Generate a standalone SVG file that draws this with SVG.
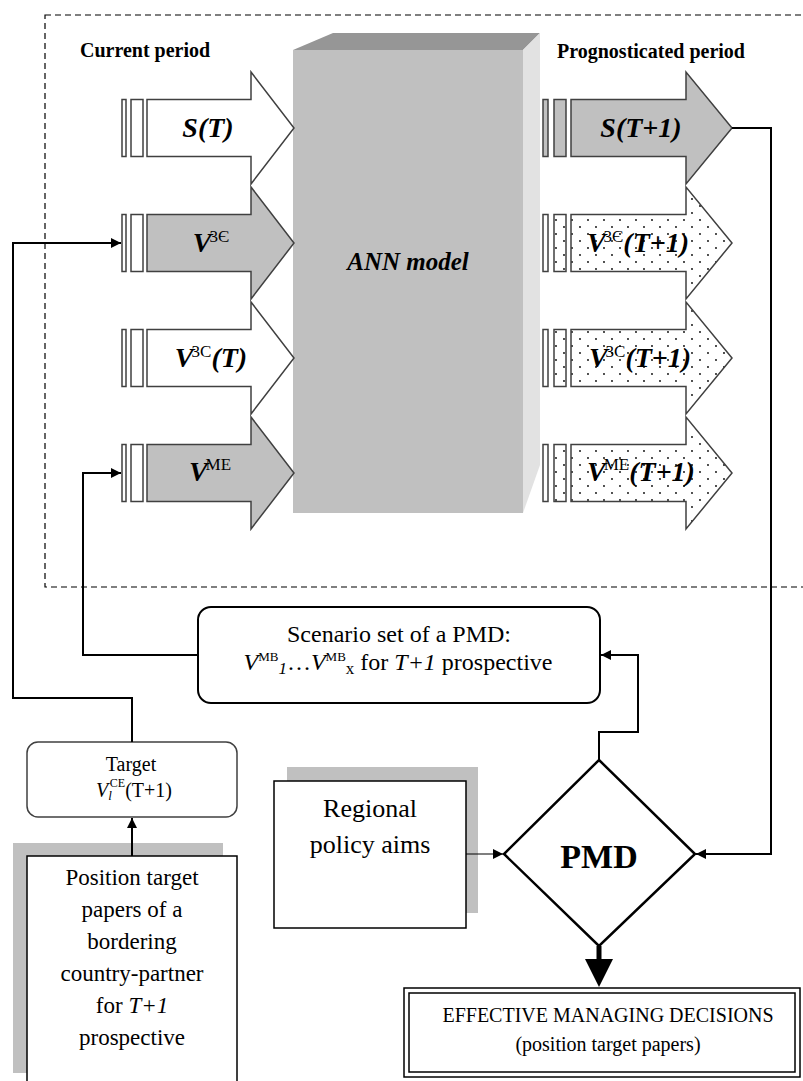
<svg xmlns="http://www.w3.org/2000/svg" width="803" height="1081" viewBox="0 0 803 1081">
<style>
.hdr{font-size:20px;font-weight:bold}
.lbl{font-size:28px;font-weight:bold;font-style:italic}
.sup{font-size:17px;font-weight:normal;font-style:normal}
.arr{stroke:#404040;stroke-width:1.5}
.wh{fill:#fff}
.gr{fill:#c0c0c0}
.dot{fill:url(#dots)}
.con{fill:none;stroke:#000;stroke-width:2}
.shadow{fill:#c0c0c0}
</style>
<defs>
<pattern id="dots" width="16" height="14" patternUnits="userSpaceOnUse">
<rect width="16" height="14" fill="#fff"/>
<circle cx="4" cy="3" r="0.9" fill="#000"/>
<circle cx="12" cy="10" r="0.9" fill="#000"/>
</pattern>
<marker id="ah" viewBox="0 0 10 10" refX="10" refY="5" markerWidth="10" markerHeight="10" markerUnits="userSpaceOnUse" orient="auto">
<path d="M0,0 L10,5 L0,10 Z" fill="#000"/>
</marker>
</defs>
<rect width="803" height="1081" fill="#fff"/>
<g font-family="Liberation Serif">

<rect x="45" y="15" width="780" height="572" fill="none" stroke="#000" stroke-width="1.2" stroke-dasharray="6,4"/>

<text class="hdr" x="80" y="57">Current period</text>
<text class="hdr" x="557" y="58">Prognosticated period</text>

<g id="ann-model">
<polygon points="293,50 333,33 540,33 523,50" fill="#969696"/>
<polygon points="523,50 540,33 540,465 523,513" fill="#e2e2e2"/>
<rect x="293" y="50" width="230" height="463" fill="#c0c0c0"/>
<text x="408" y="270" text-anchor="middle" font-size="25" font-weight="bold" font-style="italic">ANN model</text>
</g>

<g id="in-S">
<rect class="arr wh" x="122" y="99.5" width="4" height="57"/>
<rect class="arr wh" x="131" y="99.5" width="12" height="57"/>
<path class="arr wh" d="M147,99.5 H251 V72 L294,128 L251,184 V156.5 H147 Z"/>
<text class="lbl" x="208" y="137" text-anchor="middle">S(T)</text>
</g>
<g id="in-V3E">
<rect class="arr wh" x="122" y="214.5" width="4" height="57"/>
<rect class="arr wh" x="131" y="214.5" width="12" height="57"/>
<path class="arr gr" d="M147,214.5 H251 V187 L294,243 L251,299 V271.5 H147 Z"/>
<text class="lbl" x="211" y="252" text-anchor="middle">V<tspan class="sup" dx="-2" dy="-10">3Є</tspan></text>
</g>
<g id="in-V3C">
<rect class="arr wh" x="122" y="329.5" width="4" height="57"/>
<rect class="arr wh" x="131" y="329.5" width="12" height="57"/>
<path class="arr wh" d="M147,329.5 H251 V302 L294,358 L251,414 V386.5 H147 Z"/>
<text class="lbl" x="211" y="367" text-anchor="middle">V<tspan class="sup" dx="-2" dy="-10">3C</tspan><tspan dy="10">(T)</tspan></text>
</g>
<g id="in-VME">
<rect class="arr wh" x="122" y="444.5" width="4" height="57"/>
<rect class="arr wh" x="131" y="444.5" width="12" height="57"/>
<path class="arr gr" d="M147,444.5 H251 V417 L294,473 L251,529 V501.5 H147 Z"/>
<text class="lbl" x="210" y="481" text-anchor="middle">V<tspan class="sup" font-size="13" dx="-2" dy="-11">ME</tspan></text>
</g>

<g id="out-S">
<rect class="arr gr" x="543" y="99.5" width="5" height="57"/>
<rect class="arr gr" x="554" y="99.5" width="12" height="57"/>
<path class="arr gr" d="M571,99.5 H686 V72 L732,128 L686,184 V156.5 H571 Z"/>
<text class="lbl" x="641" y="137" text-anchor="middle">S(T+1)</text>
</g>
<g id="out-V3E">
<rect class="arr wh" x="543" y="214.5" width="5" height="57"/>
<rect class="arr dot" x="554" y="214.5" width="12" height="57"/>
<path class="arr dot" d="M571,214.5 H686 V187 L732,243 L686,299 V271.5 H571 Z"/>
<text class="lbl" x="638" y="252" text-anchor="middle">V<tspan class="sup" dx="-2" dy="-10">3Є</tspan><tspan dy="10">(T+1)</tspan></text>
</g>
<g id="out-V3C">
<rect class="arr wh" x="543" y="329.5" width="5" height="57"/>
<rect class="arr dot" x="554" y="329.5" width="12" height="57"/>
<path class="arr dot" d="M571,329.5 H686 V302 L732,358 L686,414 V386.5 H571 Z"/>
<text class="lbl" x="640" y="367" text-anchor="middle">V<tspan class="sup" dx="-2" dy="-10">3C</tspan><tspan dy="10">(T+1)</tspan></text>
</g>
<g id="out-VME">
<rect class="arr wh" x="543" y="444.5" width="5" height="57"/>
<rect class="arr dot" x="554" y="444.5" width="12" height="57"/>
<path class="arr dot" d="M571,444.5 H686 V417 L732,473 L686,529 V501.5 H571 Z"/>
<text class="lbl" x="641" y="481" text-anchor="middle">V<tspan class="sup" font-size="13" dx="-2" dy="-11">ME</tspan><tspan dy="11">(T+1)</tspan></text>
</g>

<g id="scenario">
<rect x="198" y="607" width="402" height="96" rx="13" fill="#fff" stroke="#000" stroke-width="2"/>
<text x="399" y="642" text-anchor="middle" font-size="24">Scenario set of a PMD:</text>
<text x="398" y="670" text-anchor="middle" font-size="24"><tspan font-style="italic">V</tspan><tspan font-size="13" dy="-9">MB</tspan><tspan font-style="italic" font-size="17" dy="13">1</tspan><tspan dy="-4">…</tspan><tspan font-style="italic">V</tspan><tspan font-size="13" dy="-9">MB</tspan><tspan font-size="17" dy="13">x</tspan><tspan dy="-4"> for </tspan><tspan font-style="italic">T+1</tspan> prospective</text>
</g>

<g id="target">
<rect x="27" y="742" width="210" height="75" rx="11" fill="#fff" stroke="#404040" stroke-width="1.5"/>
<text x="131" y="771" text-anchor="middle" font-size="20">Target</text>
<text x="134" y="797" text-anchor="middle" font-size="20"><tspan font-style="italic">V</tspan><tspan font-style="italic" font-size="13" dy="3">l</tspan><tspan font-size="12" dx="-2" dy="-13">CE</tspan><tspan dy="10">(T+1)</tspan></text>
</g>

<g id="position">
<rect class="shadow" x="13" y="843" width="210" height="230"/>
<rect x="27" y="856" width="210" height="240" fill="#fff" stroke="#000" stroke-width="1.5"/>
<text x="132" text-anchor="middle" font-size="23"><tspan x="132" y="885">Position target</tspan><tspan x="132" y="917">papers of a</tspan><tspan x="132" y="949">bordering</tspan><tspan x="132" y="981">country-partner</tspan><tspan x="132" y="1013">for <tspan font-style="italic">T+1</tspan></tspan><tspan x="132" y="1045">prospective</tspan></text>
</g>

<g id="regional">
<rect class="shadow" x="287" y="767" width="191" height="146"/>
<rect x="274" y="781" width="192" height="147" fill="#fff" stroke="#000" stroke-width="1.5"/>
<text x="370" text-anchor="middle" font-size="26"><tspan x="370" y="817">Regional</tspan><tspan x="370" y="853">policy aims</tspan></text>
</g>

<g id="pmd">
<polygon points="599,760 695,854 599,946 504,854" fill="#fff" stroke="#000" stroke-width="2.5"/>
<text x="599" y="868" text-anchor="middle" font-size="34" font-weight="bold">PMD</text>
</g>

<g id="effective">
<rect x="404" y="988" width="396" height="89" fill="#fff" stroke="#000" stroke-width="1.5"/>
<rect x="409" y="993" width="386" height="79" fill="none" stroke="#000" stroke-width="1.5"/>
<text x="608" y="1022" text-anchor="middle" font-size="20">EFFECTIVE MANAGING DECISIONS</text>
<text x="608" y="1051" text-anchor="middle" font-size="20">(position target papers)</text>
</g>

<g id="connectors">
<path class="con" d="M132,742 V698 H13 V243 H121" marker-end="url(#ah)"/>
<path class="con" d="M198,655 H83 V473 H121" marker-end="url(#ah)"/>
<path class="con" d="M132,856 V818" marker-end="url(#ah)"/>
<path class="con" d="M599,760 V732 H638 V655 H601" marker-end="url(#ah)"/>
<path class="con" d="M732,128 H771 V854 H696" marker-end="url(#ah)"/>
<path fill="none" stroke="#000" stroke-width="1.2" d="M466,854 H503" marker-end="url(#ah)"/>
<path fill="none" stroke="#000" stroke-width="5" d="M599,946 V960"/>
<polygon points="585,959 613,959 599,987" fill="#000"/>
</g>
</g>
</svg>
